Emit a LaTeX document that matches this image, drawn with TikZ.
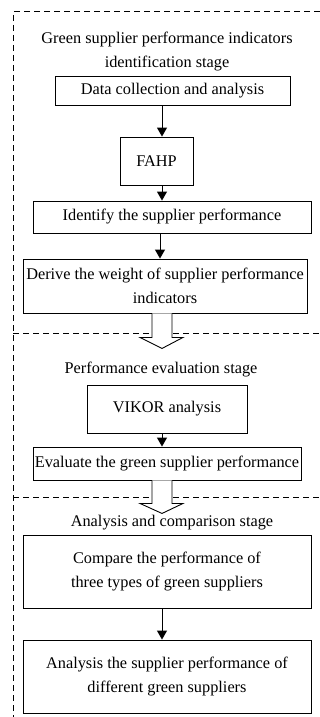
\documentclass[tikz,border=0pt]{standalone}
\usepackage{fontspec}
\setmainfont{Liberation Serif}
\usetikzlibrary{arrows.meta,calc}
\begin{document}
\begin{tikzpicture}[x=1pt,y=-1pt,
  every node/.style={font=\fontsize{16.3}{24.5}\selectfont, inner sep=0pt, align=center},
  box/.style={draw, line width=0.9pt},
  arr/.style={line width=0.9pt, -{Triangle[width=10pt,length=9pt]}},
  frame/.style={line width=1pt, dash pattern=on 6pt off 4pt},
  hollow/.style={draw, fill=white, line width=0.9pt, line join=miter}]
\useasboundingbox (0,0) rectangle (320,717);
% frame
\draw[frame] (320,12) -- (13,12) -- (13,717);
\draw[frame] (13,333) -- (320,333);
\draw[frame] (13,497) -- (320,497);
% stage 1
\node (t1) at (167,51.5) {Green supplier performance indicators\\identification stage};
\node[box, minimum width=235pt, minimum height=29pt] (b1) at (172.5,90.5) {Data collection and analysis};
\node[box, minimum width=73pt, minimum height=48pt] (fahp) at (156.5,161) {FAHP};
\node[box, minimum width=278pt, minimum height=32pt] (ident) at (172,217) {Identify the supplier performance};
\node[box, minimum width=284pt, minimum height=54pt] (derive) at (165,286) {Derive the weight of supplier performance\\indicators};
\coordinate (ax) at (162,0);
\coordinate (ax2) at (160,0);
\draw[arr] (ax |- b1.south) -- (ax |- fahp.north);
\draw[arr] (ax |- fahp.south) -- (ax |- ident.north);
\draw[arr] (ax2 |- ident.south) -- (ax2 |- derive.north);
\path[hollow] (ax |- derive.south) ++(-10,0) -- ++(0,24) -- ++(-12,0) -- ++(22,11) -- ++(21,-11) -- ++(-11,0) -- ++(0,-24);
% stage 2
\node (t2) at (161,369.5) {Performance evaluation stage};
\node[box, minimum width=160pt, minimum height=48pt] (vikor) at (167,409) {VIKOR analysis};
\node[box, minimum width=268pt, minimum height=33pt] (eval) at (167,463.5) {Evaluate the green supplier performance};
\draw[arr] (ax |- vikor.south) -- (ax |- eval.north);
\path[hollow] (ax |- eval.south) ++(-10,0) -- ++(0,23) -- ++(-12,0) -- ++(22,10) -- ++(21,-10) -- ++(-11,0) -- ++(0,-23);
% stage 3
\node (t3) at (172,522.5) {Analysis and comparison stage};
\node[box, minimum width=288pt, minimum height=73pt] (comp) at (167,571.5) {Compare the performance of\\three types of green suppliers};
\node[box, minimum width=288pt, minimum height=73pt] (anal) at (167,676.5) {Analysis the supplier performance of\\different green suppliers};
\draw[arr] (ax |- comp.south) -- (ax |- anal.north);
\end{tikzpicture}
\end{document}
